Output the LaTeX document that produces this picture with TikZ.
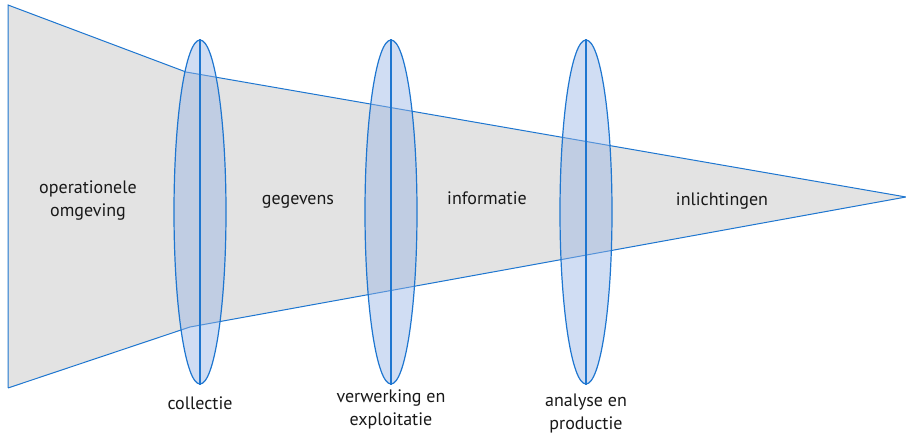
\documentclass[tikz,border=0pt]{standalone}
\usepackage{fontspec}
\setmainfont{PT Sans}
\usetikzlibrary{shapes.geometric,positioning}
\definecolor{lijn}{RGB}{30,118,208}
\definecolor{trechter}{RGB}{227,227,227}
\definecolor{lens}{RGB}{150,180,228}
\begin{document}
\begin{tikzpicture}[x=1pt,y=1pt,font=\fontsize{18}{23}\selectfont]
	\tikzset{fase/.style={ellipse,draw=lijn,line width=1.2pt,fill=lens,fill opacity=0.45,text opacity=1,minimum width=52pt,minimum height=344pt,inner sep=0pt},
		stap/.style={align=center,text=black!90,inner sep=2pt}}
	\useasboundingbox(0,0)rectangle(906,437);
	\fill[trechter](8,432)--(186,365)--(906,240)--(190,110)--(8,49)--cycle;
	\draw[lijn,line width=1pt](8,49)--(8,432)--(186,365)--(906,240)coordinate(punt)--(190,110)--(8,49);
	\foreach \n/\x in {c/200,v/391,a/586}
	{\node[fase](\n)at(\x,225){};
	\draw[lijn,line width=1.2pt](\n.north)--(\n.south);}
	\node[stap,below=10pt of c.south](lc){collectie};
	\node[stap,below=3pt of v.south](lv){verwerking en\\exploitatie};
	\node[stap,below=7pt of a.south](la){analyse en\\productie};
	\node[stap](og)at(88,236){operationele\\omgeving};
	\node[stap](ge)at(298,235){gegevens};
	\node[stap](in)at(487,239){informatie};
	\node[stap](il)at(722,236){inlichtingen};
\end{tikzpicture}
\end{document}
